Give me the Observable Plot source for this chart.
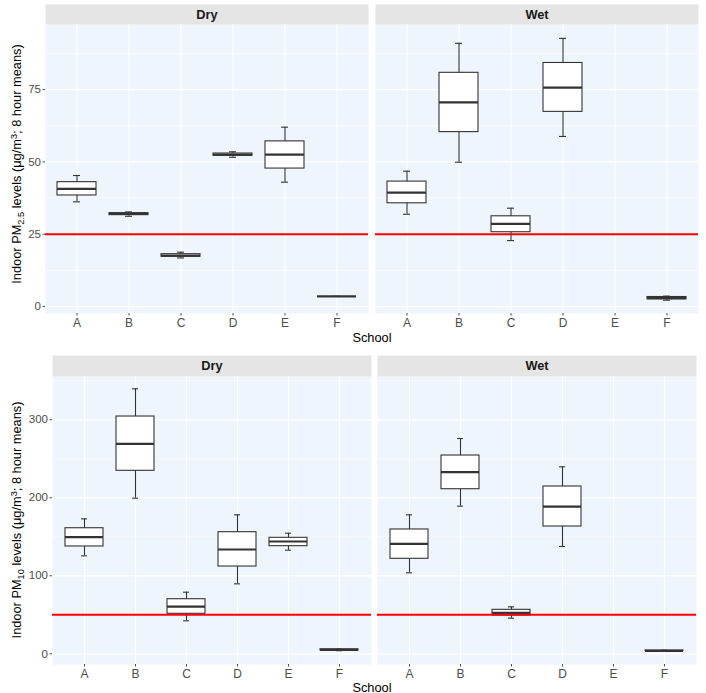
<!DOCTYPE html>
<html>
<head>
<meta charset="utf-8">
<script src="https://cdn.jsdelivr.net/npm/d3@7"></script>
<script src="https://cdn.jsdelivr.net/npm/@observablehq/plot@0.6"></script>
<style>
  body { margin: 0; background: #fff; font-family: "Liberation Sans", Arial, sans-serif; }
  #wrap { position: relative; width: 706px; height: 693px; overflow: hidden; }
  #wrap svg { position: absolute; left: 0; }
  .ylab { position: absolute; white-space: nowrap; font-size: 12.8px; color: #000;
          transform: translate(-50%, -50%) rotate(-90deg); }
  .xlab { position: absolute; font-size: 12.8px; color: #000; transform: translate(-50%, -50%); }
  .s { font-size: 0.72em; position: relative; }
  .sub { top: 0.3em; }
  .sup { top: -0.45em; }
</style>
</head>
<body>
<div id="wrap"></div>
<script>
// ---- data (box statistics: [lower whisker, Q1, median, Q3, upper whisker]) ----
const schools = ["A", "B", "C", "D", "E", "F"];
const seasons = ["Dry", "Wet"];

const pm25Dry = [
  [36.2, 38.4, 40.7, 43.0, 45.3],
  [31.2, 31.6, 32.0, 32.3, 32.7],
  [16.8, 17.2, 17.6, 18.1, 18.8],
  [51.6, 52.1, 52.5, 52.9, 53.5],
  [43.0, 47.7, 52.5, 57.1, 62.0],
  [3.5, 3.5, 3.5, 3.5, 3.5]
];
const pm25Wet = [
  [31.9, 35.7, 39.4, 43.2, 46.8],
  [49.9, 60.3, 70.6, 80.8, 91.0],
  [22.8, 25.7, 28.6, 31.2, 34.0],
  [58.8, 67.3, 75.7, 84.2, 92.7],
  null,
  [2.2, 2.5, 2.9, 3.3, 3.6]
];
const pm10Dry = [
  [125.6, 137.6, 149.5, 161.0, 173.0],
  [199.5, 234.6, 269.2, 304.2, 339.7],
  [42.3, 51.3, 60.6, 70.0, 79.0],
  [89.7, 111.9, 133.7, 155.9, 178.2],
  [132.8, 138.0, 144.0, 148.7, 154.6],
  [4.0, 4.4, 5.1, 5.8, 6.2]
];
const pm10Wet = [
  [103.8, 121.8, 141.0, 159.4, 178.2],
  [189.3, 211.0, 232.8, 254.2, 276.0],
  [45.7, 49.1, 52.6, 56.4, 60.2],
  [137.6, 163.2, 188.8, 214.5, 239.7],
  null,
  [3.2, 3.5, 3.8, 4.2, 4.5]
];

const pm25Ticks = [0, 25, 50, 75];
const pm25Minor = [12.5, 37.5, 62.5, 87.5];
const pm10Ticks = [0, 100, 200, 300];
const pm10Minor = [50, 150, 250, 350];
const pm25Limit = 25;
const pm10Limit = 50;

// ---- helpers ----
function toRows(bySeason) {
  const rows = [];
  seasons.forEach(s => bySeason[s].forEach((v, i) => {
    if (v) rows.push({season: s, school: schools[i], lo: v[0], q1: v[1], med: v[2], q3: v[3], hi: v[4]});
  }));
  return rows;
}

const panelBg = "#eef5fd";
const stripBg = "#e5e5e5";
const boxStroke = "#333333";

function row(o) {
  const data = toRows(o.stats);
  const panelH = o.height - o.marginTop - o.marginBottom;
  return Plot.plot({
    width: 706,
    height: o.height,
    marginLeft: o.marginLeft,
    marginRight: o.marginRight,
    marginTop: o.marginTop,
    marginBottom: o.marginBottom,
    style: {fontFamily: "Liberation Sans, Arial, sans-serif", fontSize: "12px", background: "transparent"},
    fx: {domain: seasons, paddingInner: o.fxPad, paddingOuter: 0, axis: null},
    x: {domain: schools, type: "band", paddingInner: 0.25, paddingOuter: 0.225},
    y: {domain: o.yDomain},
    marks: [
      Plot.frame({fill: panelBg, stroke: null}),
      Plot.frame({fill: stripBg, stroke: null, insetTop: -o.stripH, insetBottom: panelH}),
      Plot.gridY(o.minor, {stroke: "white", strokeOpacity: 1, strokeWidth: 0.6}),
      Plot.gridY(o.ticks, {stroke: "white", strokeOpacity: 1, strokeWidth: 1.2}),
      Plot.gridX(schools, {stroke: "white", strokeOpacity: 1, strokeWidth: 1.2}),
      Plot.ruleX(data, {fx: "season", x: "school", y1: "lo", y2: "hi", stroke: boxStroke, strokeWidth: 1.1}),
      Plot.tickY(data, {fx: "season", x: "school", y: "lo", stroke: boxStroke, strokeWidth: 1.1, insetLeft: 16, insetRight: 16}),
      Plot.tickY(data, {fx: "season", x: "school", y: "hi", stroke: boxStroke, strokeWidth: 1.1, insetLeft: 16, insetRight: 16}),
      Plot.barY(data, {fx: "season", x: "school", y1: "q1", y2: "q3", fill: "white", stroke: boxStroke, strokeWidth: 1.1}),
      Plot.tickY(data, {fx: "season", x: "school", y: "med", stroke: boxStroke, strokeWidth: 2.2}),
      Plot.ruleY([o.limit], {stroke: "#ff0000", strokeWidth: 2}),
      Plot.axisY(o.ticks, {tickSize: 2.5, tickPadding: 2, label: null, color: "#4d4d4d", fontSize: 11.5}),
      Plot.axisX({tickSize: 2.5, tickPadding: 2, label: null, color: "#4d4d4d", fontSize: 12}),
      Plot.text(seasons, {fx: d => d, text: d => d, frameAnchor: "top", dy: -o.stripH / 2,
        fontWeight: "bold", fontSize: 12.8, fill: "#1a1a1a", lineAnchor: "middle"})
    ]
  });
}

const wrap = document.getElementById("wrap");

const topRow = row({
  stats: {Dry: pm25Dry, Wet: pm25Wet},
  height: 330, marginTop: 24, marginBottom: 17, marginLeft: 45, marginRight: 8,
  stripH: 20, fxPad: 7 / 330,
  yDomain: [-2.4, 97.5], ticks: pm25Ticks, minor: pm25Minor, limit: pm25Limit
});
topRow.style.top = "0px";
wrap.appendChild(topRow);

const bottomRow = row({
  stats: {Dry: pm10Dry, Wet: pm10Wet},
  height: 342, marginTop: 36, marginBottom: 18, marginLeft: 52, marginRight: 9,
  stripH: 21, fxPad: 5.6 / 325.3,
  yDomain: [-13.7, 355.5], ticks: pm10Ticks, minor: pm10Minor, limit: pm10Limit
});
bottomRow.style.top = "340px";
wrap.appendChild(bottomRow);

function addLabel(cls, html, x, y) {
  const d = document.createElement("div");
  d.className = cls;
  d.innerHTML = html;
  d.style.left = x + "px";
  d.style.top = y + "px";
  wrap.appendChild(d);
}
addLabel("ylab", 'Indoor PM<span class="s sub">2.5</span> levels (\u03bcg/m<span class="s sup">3</span>; 8 hour means)', 16, 164);
addLabel("ylab", 'Indoor PM<span class="s sub">10</span> levels (\u03bcg/m<span class="s sup">3</span>; 8 hour means)', 16, 520);
addLabel("xlab", "School", 372, 337);
addLabel("xlab", "School", 372, 687);
</script>
</body>
</html>
